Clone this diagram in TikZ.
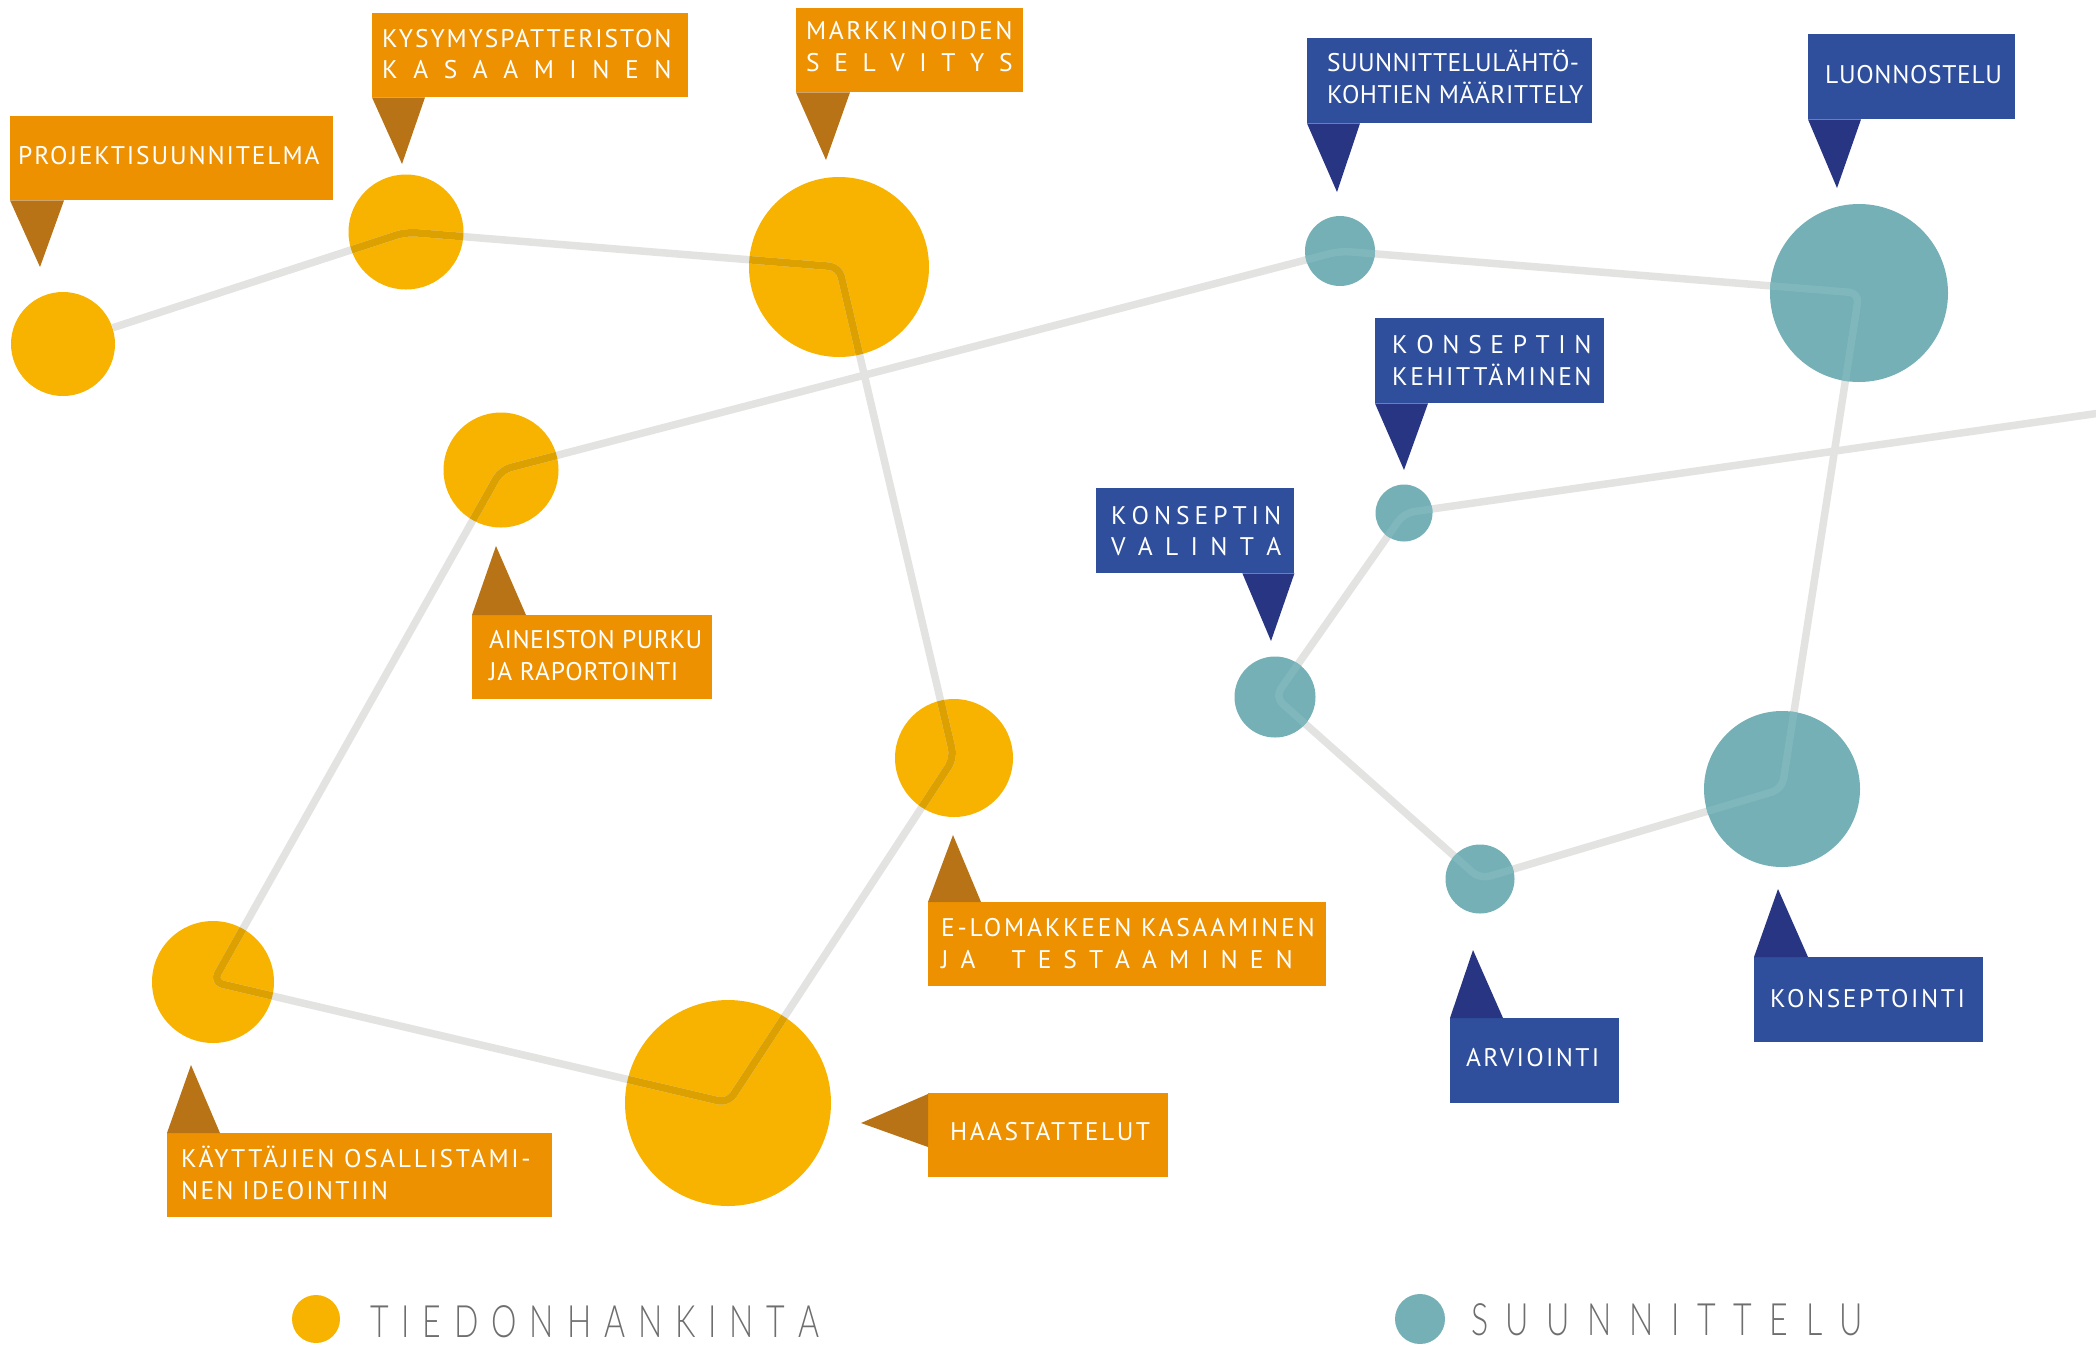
\documentclass[tikz,border=0pt]{standalone}
\usepackage{fontspec}
\setmainfont{PT Sans}
\newfontfamily\legendfont{Lato Light}[FakeStretch=0.72]
\newlength\spreadwd

\definecolor{dotorange}{RGB}{248,179,0}
\definecolor{dotteal}{RGB}{116,176,182}
\definecolor{boxorange}{RGB}{238,145,0}
\definecolor{tipbrown}{RGB}{184,115,22}
\definecolor{boxblue}{RGB}{47,79,156}
\definecolor{tipnavy}{RGB}{40,53,131}
\definecolor{routegray}{RGB}{227,227,226}
\definecolor{routeshade}{RGB}{220,160,0}
\definecolor{routeteal}{RGB}{127,183,188}
\definecolor{legendgray}{RGB}{110,110,110}

% the route through all the steps, corner by corner
\newcommand\routepath{(o1) -- (o2.center) -- (o3.center) -- (o5.center) -- (o7.center)
  -- (o6.center) -- (o4.center) -- (t1) -- (t2) -- (t6)
  -- (t5) -- (t4) -- (t3) -- (edge)}

\begin{document}
\begin{tikzpicture}[x=1pt,y=-1pt,
  route/.style={draw=routegray, line width=7.5pt, rounded corners=10pt, line join=round},
  odot/.style={circle, fill=dotorange, inner sep=0pt, minimum size=#1},
  tdot/.style={circle, fill=dotteal, inner sep=0pt, minimum size=#1},
  obox/.style={anchor=north west, fill=boxorange, inner sep=0pt, minimum height=84pt, minimum width=#1},
  bbox/.style={anchor=north west, fill=boxblue, inner sep=0pt, minimum height=85pt, minimum width=#1},
  otip/.style={fill=tipbrown},
  btip/.style={fill=tipnavy},
  ltxt/.style={anchor=base west, inner sep=0pt, text=white,
    font=\fontsize{25.5}{32}\selectfont\addfontfeatures{LetterSpace=#1}},
  legtxt/.style={anchor=base west, inner sep=0pt, text=legendgray,
    font=\legendfont\fontsize{44.6}{50}\selectfont},
]
\useasboundingbox (0,0) rectangle (2096,1345);

% ---- information gathering steps
\node[odot=104] (o1) at (63,344) {};
\node[odot=115] (o2) at (406,232) {};
\node[odot=180] (o3) at (839,267) {};
\node[odot=115] (o4) at (501,470) {};
\node[odot=118] (o5) at (954,758) {};
\node[odot=122] (o6) at (213,982) {};
\node[odot=206] (o7) at (728,1103) {};

% ---- design steps (drawn after the route)
\coordinate (t1) at (1340,251);
\coordinate (t2) at (1859,293);
\coordinate (t3) at (1404,513);
\coordinate (t4) at (1275,697);
\coordinate (t5) at (1480,879);
\coordinate (t6) at (1782,789);
\coordinate (edge) at (2100,413);

% ---- route
\draw[route] \routepath;
\begin{scope}
  \clip (o2.center) circle[radius=57.5pt] (o3.center) circle[radius=90pt]
        (o4.center) circle[radius=57.5pt] (o5.center) circle[radius=59pt]
        (o6.center) circle[radius=61pt] (o7.center) circle[radius=103pt];
  \draw[route, draw=routeshade] \routepath;
\end{scope}

\node[tdot=70]  (d1) at (t1) {};
\node[tdot=178] (d2) at (t2) {};
\node[tdot=57]  (d3) at (t3) {};
\node[tdot=81]  (d4) at (t4) {};
\node[tdot=69]  (d5) at (t5) {};
\node[tdot=156] (d6) at (t6) {};
\begin{scope}
  \clip (t1) circle[radius=35pt] (t2) circle[radius=89pt] (t3) circle[radius=28.5pt]
        (t4) circle[radius=40.5pt] (t5) circle[radius=34.5pt] (t6) circle[radius=78pt];
  \draw[route, draw=routeteal] \routepath;
\end{scope}

% ---- orange callouts
\node[obox=323] (b1) at (10,116) {};
\coordinate (b1tip) at (40,267);
\fill[otip] (b1.south west) -- ([xshift=54pt]b1.south west) -- (b1tip) -- cycle;
\node[ltxt=7.3] (b1a) at (18,164) {PROJEKTISUUNNITELMA};

\node[obox=316] (b2) at (372,13) {};
\coordinate (b2tip) at (402,164);
\fill[otip] (b2.south west) -- ([xshift=53pt]b2.south west) -- (b2tip) -- cycle;
\node[ltxt=7.5] (b2a) at (382,47) {KYSYMYSPATTERISTON};
\node[ltxt=7.5] (b2b) at (382,78) {\settowidth\spreadwd{KYSYMYSPATTERISTON}%
  \makebox[\spreadwd][s]{K\hfill A\hfill S\hfill A\hfill A\hfill M\hfill I\hfill N\hfill E\hfill N}};

\node[obox=227] (b3) at (796,8) {};
\coordinate (b3tip) at (826,160);
\fill[otip] (b3.south west) -- ([xshift=54pt]b3.south west) -- (b3tip) -- cycle;
\node[ltxt=10] (b3a) at (806,39) {MARKKINOIDEN};
\node[ltxt=10] (b3b) at (806,71) {\settowidth\spreadwd{MARKKINOIDEN}%
  \makebox[\spreadwd][s]{S\hfill E\hfill L\hfill V\hfill I\hfill T\hfill Y\hfill S}};

\node[obox=240] (b4) at (472,615) {};
\coordinate (b4tip) at (496,546);
\fill[otip] (b4.north west) -- ([xshift=54pt]b4.north west) -- (b4tip) -- cycle;
\node[ltxt=1.9] (b4a) at (489,648) {AINEISTON PURKU};
\node[ltxt=3] (b4b) at (489,680) {JA RAPORTOINTI};

\node[obox=398] (b5) at (928,902) {};
\coordinate (b5tip) at (953,835);
\fill[otip] (b5.north west) -- ([xshift=53pt]b5.north west) -- (b5tip) -- cycle;
\node[ltxt=10.9] (b5a) at (941,936) {E-LOMAKKEEN KASAAMINEN};
\node[ltxt=10.9] (b5b) at (941,968) {\settowidth\spreadwd{E-LOMAKKEEN KASAAMINEN}%
  \addtolength\spreadwd{-22pt}%
  \makebox[\spreadwd][s]{J\hfill A\hfill\hfill\hfill T\hfill E\hfill S\hfill T\hfill A\hfill A\hfill M\hfill I\hfill N\hfill E\hfill N}};

\node[obox=385] (b6) at (167,1133) {};
\coordinate (b6tip) at (191,1065);
\fill[otip] (b6.north west) -- ([xshift=53pt]b6.north west) -- (b6tip) -- cycle;
\node[ltxt=10.4] (b6a) at (181,1167) {KÄYTTÄJIEN OSALLISTAMI-};
\node[ltxt=8.5] (b6b) at (181,1199) {NEN IDEOINTIIN};

\node[obox=240] (b7) at (928,1093) {};
\coordinate (b7tip) at (861,1123);
\fill[otip] ([yshift=-1pt]b7.north west) -- ([yshift=-54pt]b7.north west) -- (b7tip) -- cycle;
\node[ltxt=9.7] (b7a) at (950,1140) {HAASTATTELUT};

% ---- blue callouts
\node[bbox=285] (b8) at (1307,38) {};
\coordinate (b8tip) at (1337,192);
\fill[btip] (b8.south west) -- ([xshift=53pt]b8.south west) -- (b8tip) -- cycle;
\node[ltxt=1.5] (b8a) at (1327,71) {SUUNNITTELULÄHTÖ-};
\node[ltxt=2] (b8b) at (1327,103) {KOHTIEN MÄÄRITTELY};

\node[bbox=207] (b9) at (1808,34) {};
\coordinate (b9tip) at (1837,188);
\fill[btip] (b9.south west) -- ([xshift=53pt]b9.south west) -- (b9tip) -- cycle;
\node[ltxt=2.6] (b9a) at (1825,83) {LUONNOSTELU};

\node[bbox=229] (b10) at (1375,318) {};
\coordinate (b10tip) at (1404,470);
\fill[btip] (b10.south west) -- ([xshift=53pt]b10.south west) -- (b10tip) -- cycle;
\node[ltxt=10] (b10a) at (1392,353) {\settowidth\spreadwd{KEHITTÄMINEN}%
  \makebox[\spreadwd][s]{K\hfill O\hfill N\hfill S\hfill E\hfill P\hfill T\hfill I\hfill N}};
\node[ltxt=10] (b10b) at (1392,385) {KEHITTÄMINEN};

\node[bbox=198] (b11) at (1096,488) {};
\coordinate (b11tip) at (1271,641);
\fill[btip] ([xshift=-52pt]b11.south east) -- (b11.south east) -- (b11tip) -- cycle;
\node[ltxt=4] (b11a) at (1111,524) {\makebox[170pt][s]{K\hfill O\hfill N\hfill S\hfill E\hfill P\hfill T\hfill I\hfill N}};
\node[ltxt=4] (b11b) at (1111,555) {\makebox[170pt][s]{V\hfill A\hfill L\hfill I\hfill N\hfill T\hfill A}};

\node[bbox=169] (b12) at (1450,1018) {};
\coordinate (b12tip) at (1473,950);
\fill[btip] (b12.north west) -- ([xshift=53pt]b12.north west) -- (b12tip) -- cycle;
\node[ltxt=9.2] (b12a) at (1466,1066) {ARVIOINTI};

\node[bbox=229] (b13) at (1754,957) {};
\coordinate (b13tip) at (1778,889);
\fill[btip] (b13.north west) -- ([xshift=54pt]b13.north west) -- (b13tip) -- cycle;
\node[ltxt=10.1] (b13a) at (1770,1007) {KONSEPTOINTI};

% ---- legend
\node[circle, fill=dotorange, inner sep=0pt, minimum size=48] (lg1) at (316,1319) {};
\node[legtxt] (lg1t) at (370,1337) {\makebox[449pt][s]{T\hfill I\hfill E\hfill D\hfill O\hfill N\hfill H\hfill A\hfill N\hfill K\hfill I\hfill N\hfill T\hfill A}};
\node[circle, fill=dotteal, inner sep=0pt, minimum size=50] (lg2) at (1420,1319) {};
\node[legtxt] (lg2t) at (1471,1335) {\makebox[392pt][s]{S\hfill U\hfill U\hfill N\hfill N\hfill I\hfill T\hfill T\hfill E\hfill L\hfill U}};
\end{tikzpicture}
\end{document}
